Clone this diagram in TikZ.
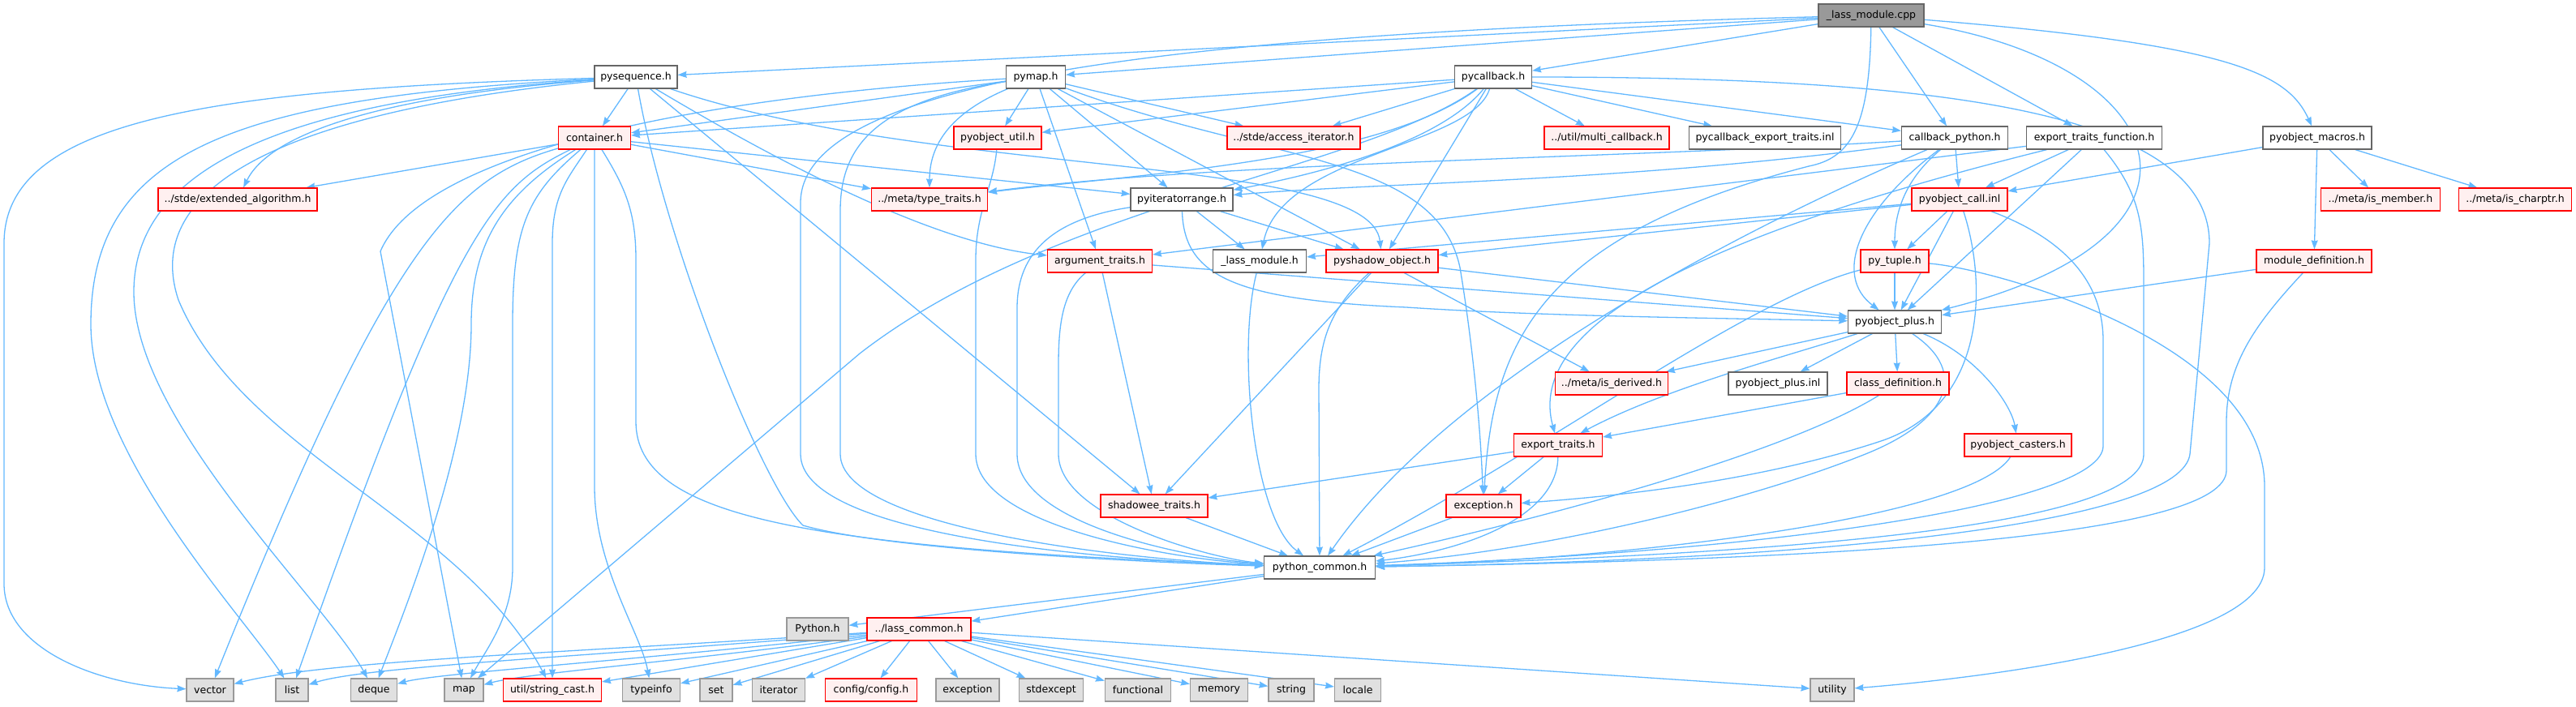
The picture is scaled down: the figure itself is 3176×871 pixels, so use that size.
\documentclass[tikz,border=0pt]{standalone}
\usepackage{fontspec}
\setmainfont{DejaVu Sans}
\usetikzlibrary{arrows.meta}
\pgfdeclarelayer{background}
\pgfsetlayers{background,main}
\definecolor{edgec}{HTML}{63B8FF}
\definecolor{plainborder}{HTML}{666666}
\definecolor{truncfill}{HTML}{FFF0F0}
\definecolor{extfill}{HTML}{E0E0E0}
\definecolor{extborder}{HTML}{999999}
\definecolor{rootfill}{HTML}{999999}
\begin{document}
\begin{tikzpicture}[x=1pt,y=-1pt,
  nbase/.style={draw, minimum height=28pt, inner sep=0pt, line width=1.2pt, font=\fontsize{12.5}{14}\selectfont, text=black},
  plain/.style={nbase, draw=plainborder, fill=white},
  trunc/.style={nbase, draw=red, fill=truncfill},
  ext/.style={nbase, draw=extborder, fill=extfill},
  root/.style={nbase, draw=plainborder, fill=rootfill},
  dep/.style={draw=edgec, line width=1.3pt, -{Stealth[length=11pt,width=8pt,inset=1pt]}}]
\useasboundingbox (0,0) rectangle (3176,871);
% nodes
\node[root, minimum width=130pt] (cpp) at (2307,19) {\_lass\_module.cpp};
\node[plain, minimum width=102pt] (pyseq) at (784,95) {pysequence.h};
\node[plain, minimum width=73pt] (pymap) at (1277,95) {pymap.h};
\node[plain, minimum width=95pt] (pycb) at (1841,95) {pycallback.h};
\node[trunc, minimum width=89pt] (container) at (733,170) {container.h};
\node[trunc, minimum width=108pt] (pyutil) at (1230,170) {pyobject\_util.h};
\node[trunc, minimum width=164pt] (accit) at (1595,170) {../stde/access\_iterator.h};
\node[trunc, minimum width=154pt] (multicb) at (1981,170) {../util/multi\_callback.h};
\node[plain, minimum width=187pt] (pycbet) at (2176,170) {pycallback\_export\_traits.inl};
\node[plain, minimum width=131pt] (cbpy) at (2410,170) {callback\_python.h};
\node[plain, minimum width=167pt] (etf) at (2582,170) {export\_traits\_function.h};
\node[plain, minimum width=134pt] (pymacros) at (2857,170) {pyobject\_macros.h};
\node[trunc, minimum width=196pt] (extalg) at (293,246) {../stde/extended\_algorithm.h};
\node[trunc, minimum width=143pt] (typetraits) at (1146,246) {../meta/type\_traits.h};
\node[plain, minimum width=126pt] (pyiter) at (1457,246) {pyiteratorrange.h};
\node[trunc, minimum width=118pt] (pycall) at (2416,246) {pyobject\_call.inl};
\node[trunc, minimum width=147pt] (ismember) at (2935,246) {../meta/is\_member.h};
\node[trunc, minimum width=139pt] (ischarptr) at (3101,246) {../meta/is\_charptr.h};
\node[trunc, minimum width=129pt] (argtraits) at (1356,322) {argument\_traits.h};
\node[plain, minimum width=115pt] (lassmodh) at (1553,322) {\_lass\_module.h};
\node[trunc, minimum width=138pt] (pyshadow) at (1704,322) {pyshadow\_object.h};
\node[trunc, minimum width=84pt] (pytuple) at (2336,322) {py\_tuple.h};
\node[trunc, minimum width=142pt] (moddef) at (2853,322) {module\_definition.h};
\node[plain, minimum width=115pt] (pyplus) at (2336,397) {pyobject\_plus.h};
\node[trunc, minimum width=139pt] (isderived) at (1987,473) {../meta/is\_derived.h};
\node[plain, minimum width=122pt] (pyplusinl) at (2192,473) {pyobject\_plus.inl};
\node[trunc, minimum width=126pt] (classdef) at (2340,473) {class\_definition.h};
\node[trunc, minimum width=109pt] (exporttraits) at (1921,549) {export\_traits.h};
\node[trunc, minimum width=132pt] (pycasters) at (2488,549) {pyobject\_casters.h};
\node[trunc, minimum width=132pt] (shadowee) at (1423,624) {shadowee\_traits.h};
\node[trunc, minimum width=92pt] (exceptionh) at (1829,624) {exception.h};
\node[plain, minimum width=137pt] (pycommon) at (1627,700) {python\_common.h};
\node[ext, minimum width=76pt] (pythonh) at (1008,776) {Python.h};
\node[trunc, minimum width=128pt] (lasscommon) at (1133,776) {../lass\_common.h};
\node[ext, minimum width=58pt] (vector) at (259,851) {vector};
\node[ext, minimum width=40pt] (list) at (360,851) {list};
\node[ext, minimum width=57pt] (deque) at (461,851) {deque};
\node[ext, minimum width=48pt] (map) at (572,851) {map};
\node[trunc, minimum width=121pt] (stringcast) at (681,851) {util/string\_cast.h};
\node[ext, minimum width=71pt] (typeinfo) at (803,851) {typeinfo};
\node[ext, minimum width=40pt] (set) at (883,851) {set};
\node[ext, minimum width=65pt] (iterator) at (960,851) {iterator};
\node[trunc, minimum width=113pt] (config) at (1074,851) {config/config.h};
\node[ext, minimum width=78pt] (exc) at (1193,851) {exception};
\node[ext, minimum width=79pt] (stdexcept) at (1296,851) {stdexcept};
\node[ext, minimum width=81pt] (functional) at (1403,851) {functional};
\node[ext, minimum width=71pt] (memory) at (1503,851) {memory};
\node[ext, minimum width=56pt] (string) at (1592,851) {string};
\node[ext, minimum width=57pt] (locale) at (1674,851) {locale};
\node[ext, minimum width=54pt] (utility) at (2259,851) {utility};
\begin{pgfonlayer}{background}
% cpp
\draw[dep] (cpp) -- (pyseq);
\draw[dep] (cpp) -- (pymap);
\draw[dep] (cpp) -- (pycb);
\draw[dep] (cpp) -- (cbpy);
\draw[dep] (cpp) -- (etf);
\draw[dep] (cpp) .. controls (2750,55) and (2820,90) .. (pymacros);
\draw[dep] (cpp) .. controls (2680,80) and (2760,290) .. (pyplus);
\draw[dep] (cpp) .. controls (1500,40) and (987,90) .. (987,250) -- (987,560) .. controls (987,660) and (1350,690) .. (pycommon);
\draw[dep] (cpp) .. controls (2305,160) and (2280,195) .. (2230,205) .. controls (1900,290) and (1840,420) .. (exceptionh);
% pysequence
\draw[dep] (pyseq) -- (container);
\draw[dep] (pyseq) .. controls (450,120) and (330,170) .. (extalg);
\draw[dep] (pyseq) .. controls (250,110) and (5,150) .. (5,300) -- (5,720) .. controls (5,800) and (120,845) .. (vector);
\draw[dep] (pyseq) .. controls (280,120) and (112,190) .. (112,400) .. controls (112,560) and (300,760) .. (list);
\draw[dep] (pyseq) .. controls (320,125) and (165,220) .. (165,360) .. controls (165,520) and (400,740) .. (deque);
\draw[dep] (pyseq) .. controls (380,135) and (170,220) .. (220,370) .. controls (300,560) and (570,640) .. (stringcast);
\draw[dep] (pyseq) .. controls (960,200) and (1150,300) .. (argtraits);
\draw[dep] (pyseq) .. controls (1150,220) and (1690,190) .. (pyshadow);
\draw[dep] (pyseq) -- (shadowee);
\draw[dep] (pyseq) .. controls (820,300) and (940,600) .. (990,648) .. controls (1100,680) and (1450,695) .. (pycommon);
% pymap
\draw[dep] (pymap) -- (container);
\draw[dep] (pymap) -- (pyutil);
\draw[dep] (pymap) .. controls (1170,140) and (1146,180) .. (typetraits);
\draw[dep] (pymap) -- (argtraits);
\draw[dep] (pymap) -- (pyiter);
\draw[dep] (pymap) -- (pyshadow);
\draw[dep] (pymap) -- (accit);
\draw[dep] (pymap) .. controls (1560,200) and (1770,190) .. (1800,330) .. controls (1815,420) and (1825,520) .. (exceptionh);
\draw[dep] (pymap) .. controls (1080,125) and (1036,180) .. (1036,260) -- (1036,560) .. controls (1036,650) and (1380,690) .. (pycommon);
\draw[dep] (pymap) .. controls (850,120) and (520,190) .. (469,310) -- (map);
% pycallback
\draw[dep] (pycb) -- (container);
\draw[dep] (pycb) -- (pyutil);
\draw[dep] (pycb) -- (accit);
\draw[dep] (pycb) -- (multicb);
\draw[dep] (pycb) -- (pycbet);
\draw[dep] (pycb) -- (cbpy);
\draw[dep] (pycb) .. controls (1700,200) and (1400,215) .. (typetraits);
\draw[dep] (pycb) .. controls (1780,170) and (1650,210) .. (pyiter);
\draw[dep] (pycb) .. controls (1815,180) and (1580,190) .. (lassmodh);
\draw[dep] (pycb) -- (pyshadow);
\draw[dep] (pycb) .. controls (1680,210) and (1300,250) .. (1060,436) -- (map);
\draw[dep] (pycb) .. controls (2400,95) and (2724,140) .. (2724,300) -- (2700,560) .. controls (2690,640) and (2300,690) .. (pycommon);
% callback_python
\draw[dep] (cbpy) -- (pycall);
\draw[dep] (cbpy) .. controls (2350,220) and (2336,260) .. (pytuple);
\draw[dep] (cbpy) .. controls (2290,260) and (2260,340) .. (pyplus);
\draw[dep] (cbpy) .. controls (2000,195) and (1500,200) .. (typetraits);
\draw[dep] (cbpy) .. controls (2000,225) and (1700,225) .. (pyiter);
\draw[dep] (cbpy) .. controls (2200,260) and (1800,450) .. (pycommon);
% export_traits_function
\draw[dep] (etf) -- (pycall);
\draw[dep] (etf) -- (pyplus);
\draw[dep] (etf) -- (argtraits);
\draw[dep] (etf) .. controls (2100,290) and (1880,400) .. (exporttraits);
\draw[dep] (etf) .. controls (2640,240) and (2643,280) .. (2643,350) -- (2643,560) .. controls (2643,640) and (2300,680) .. (pycommon);
% pyobject_macros
\draw[dep] (pymacros) -- (pycall);
\draw[dep] (pymacros) -- (ismember);
\draw[dep] (pymacros) -- (ischarptr);
\draw[dep] (pymacros) -- (moddef);
% container
\draw[dep] (container) -- (extalg);
\draw[dep] (container) -- (typetraits);
\draw[dep] (container) -- (pyiter);
\draw[dep] (container) .. controls (560,220) and (480,300) .. (vector);
\draw[dep] (container) .. controls (610,230) and (560,280) .. (list);
\draw[dep] (container) .. controls (620,240) and (581,300) .. (581,400) .. controls (581,550) and (500,750) .. (deque);
\draw[dep] (container) .. controls (650,240) and (632,280) .. (632,400) -- (632,700) .. controls (632,760) and (600,800) .. (map);
\draw[dep] (container) .. controls (700,220) and (681,240) .. (681,300) -- (stringcast);
\draw[dep] (container) -- (733,600) .. controls (733,700) and (790,780) .. (typeinfo);
\draw[dep] (container) .. controls (770,230) and (784,260) .. (784,320) -- (784,520) .. controls (784,640) and (1000,675) .. (pycommon);
% pyobject_util
\draw[dep] (pyutil) .. controls (1225,230) and (1203,260) .. (1203,320) -- (1203,560) .. controls (1203,650) and (1450,690) .. (pycommon);
% pyiteratorrange
\draw[dep] (pyiter) -- (lassmodh);
\draw[dep] (pyiter) -- (pyshadow);
\draw[dep] (pyiter) .. controls (1460,340) and (1520,370) .. (1734,379) .. controls (1900,390) and (2100,392) .. (pyplus);
\draw[dep] (pyiter) .. controls (1300,270) and (1254,310) .. (1254,380) -- (1254,560) .. controls (1254,650) and (1480,690) .. (pycommon);
% argument_traits
\draw[dep] (argtraits) -- (shadowee);
\draw[dep] (argtraits) -- (pyplus);
\draw[dep] (argtraits) .. controls (1310,360) and (1305,400) .. (1305,450) -- (1305,560) .. controls (1305,640) and (1500,690) .. (pycommon);
% _lass_module.h
\draw[dep] (lassmodh) .. controls (1525,430) and (1545,640) .. (pycommon);
% pyshadow_object
\draw[dep] (pyshadow) -- (shadowee);
\draw[dep] (pyshadow) .. controls (1640,380) and (1626,420) .. (1626,480) -- (pycommon);
\draw[dep] (pyshadow) -- (isderived);
\draw[dep] (pyshadow) -- (pyplus);
% py_tuple
\draw[dep] (pytuple) -- (pyplus);
\draw[dep] (pytuple) .. controls (2450,330) and (2792,420) .. (2792,600) -- (2792,700) .. controls (2792,800) and (2400,840) .. (utility);
\draw[dep] (pytuple) .. controls (2150,370) and (1900,560) .. (pycommon);
% pyobject_call
\draw[dep] (pycall) -- (pytuple);
\draw[dep] (pycall) -- (pyplus);
\draw[dep] (pycall) -- (lassmodh);
\draw[dep] (pycall) -- (pyshadow);
\draw[dep] (pycall) .. controls (2450,350) and (2450,500) .. (2319,544) .. controls (2150,600) and (1950,615) .. (exceptionh);
\draw[dep] (pycall) .. controls (2560,300) and (2593,360) .. (2593,420) -- (2593,550) .. controls (2593,620) and (2200,680) .. (pycommon);
% module_definition
\draw[dep] (moddef) -- (pyplus);
\draw[dep] (moddef) .. controls (2780,400) and (2745,450) .. (2745,520) -- (2745,580) .. controls (2745,660) and (2300,690) .. (pycommon);
% pyobject_plus
\draw[dep] (pyplus) -- (pyplusinl);
\draw[dep] (pyplus) -- (classdef);
\draw[dep] (pyplus) .. controls (2440,440) and (2480,500) .. (pycasters);
\draw[dep] (pyplus) -- (isderived);
\draw[dep] (pyplus) .. controls (2200,440) and (2050,480) .. (exporttraits);
\draw[dep] (pyplus) .. controls (2430,460) and (2400,520) .. (2300,560) .. controls (2150,620) and (1900,680) .. (pycommon);
% class_definition
\draw[dep] (classdef) -- (exporttraits);
\draw[dep] (classdef) .. controls (2200,560) and (1900,640) .. (pycommon);
% pyobject_casters
\draw[dep] (pycasters) .. controls (2430,640) and (2000,690) .. (pycommon);
% export_traits
\draw[dep] (exporttraits) -- (shadowee);
\draw[dep] (exporttraits) -- (exceptionh);
\draw[dep] (exporttraits) .. controls (1920,640) and (1800,680) .. (pycommon);
\draw[dep] (exceptionh) -- (pycommon);
\draw[dep] (shadowee) -- (pycommon);
% python_common
\draw[dep] (pycommon) -- (pythonh);
\draw[dep] (pycommon) -- (lasscommon);
% lass_common
\draw[dep] (lasscommon) .. controls (700,805) and (400,815) .. (vector);
\draw[dep] (lasscommon) .. controls (720,810) and (450,822) .. (list);
\draw[dep] (lasscommon) .. controls (780,815) and (540,830) .. (deque);
\draw[dep] (lasscommon) .. controls (850,815) and (650,830) .. (map);
\draw[dep] (lasscommon) -- (stringcast);
\draw[dep] (lasscommon) -- (typeinfo);
\draw[dep] (lasscommon) -- (set);
\draw[dep] (lasscommon) -- (iterator);
\draw[dep] (lasscommon) -- (config);
\draw[dep] (lasscommon) -- (exc);
\draw[dep] (lasscommon) -- (stdexcept);
\draw[dep] (lasscommon) -- (functional);
\draw[dep] (lasscommon) -- (memory);
\draw[dep] (lasscommon) -- (string);
\draw[dep] (lasscommon) -- (locale);
\draw[dep] (lasscommon) -- (utility);
\end{pgfonlayer}
\end{tikzpicture}
\end{document}
